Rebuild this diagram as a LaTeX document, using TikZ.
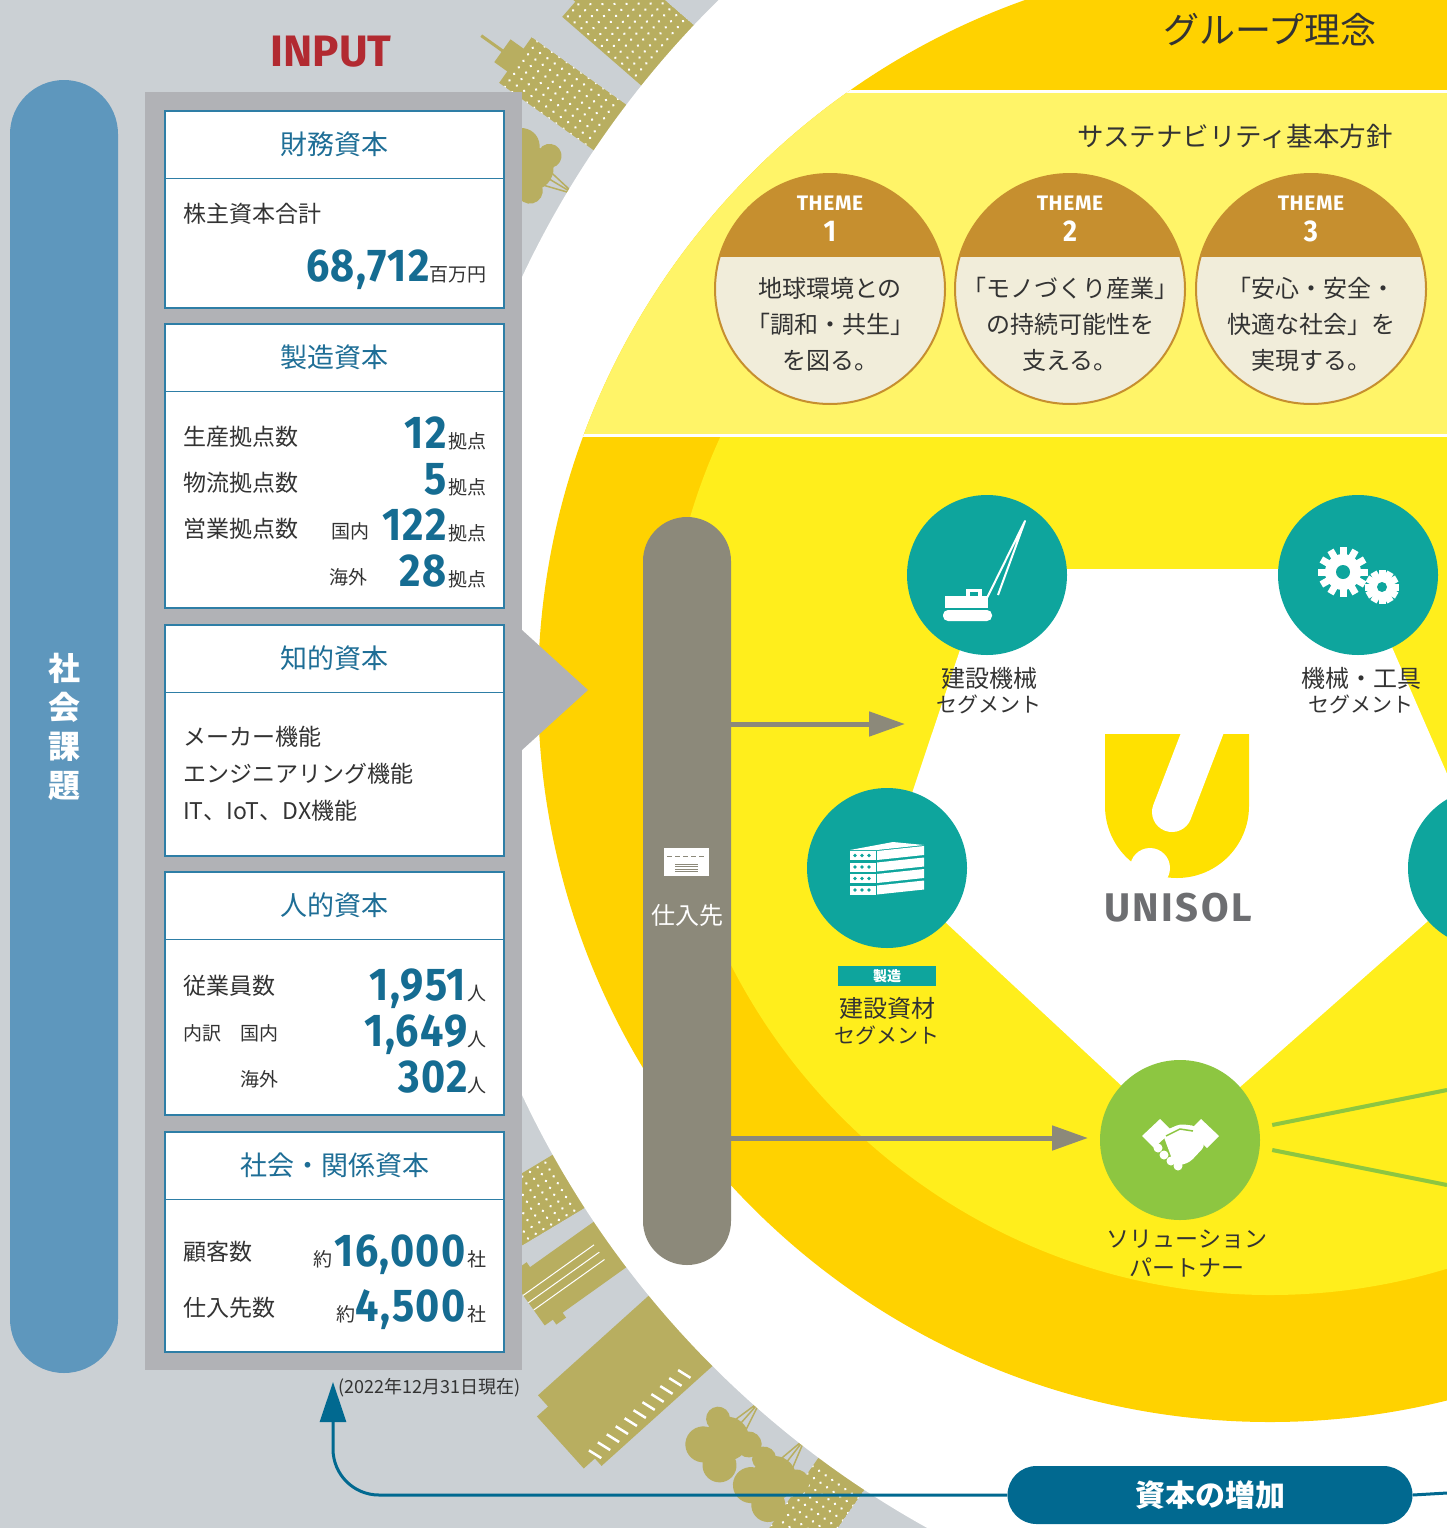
\documentclass[tikz,border=0pt]{standalone}
\usepackage{fontspec}
\setmainfont{Noto Sans CJK JP}
\newfontfamily\din[FakeStretch=0.9,LetterSpace=3]{Fira Sans}
\newfontfamily\dinw{Fira Sans}
\usetikzlibrary{positioning,arrows.meta}

\definecolor{bggray}{HTML}{CBD0D4}
\definecolor{cityolive}{HTML}{B8AE60}
\definecolor{panelgray}{HTML}{B1B2B6}
\definecolor{societyblue}{HTML}{5E97BD}
\definecolor{boxblue}{HTML}{2E7EA6}
\definecolor{titleblue}{HTML}{1E6E96}
\definecolor{numblue}{HTML}{156C92}
\definecolor{ink}{HTML}{333333}
\definecolor{inputred}{HTML}{B22A31}
\definecolor{ringyellow}{HTML}{FFD200}
\definecolor{sunyellow}{HTML}{FFEE1C}
\definecolor{bandyellow}{HTML}{FFF468}
\definecolor{themebrown}{HTML}{C68F2F}
\definecolor{themecream}{HTML}{F1EDDA}
\definecolor{segteal}{HTML}{0EA59D}
\definecolor{partnergreen}{HTML}{8DC641}
\definecolor{pillgray}{HTML}{8C897A}
\definecolor{logoyellow}{HTML}{FFE100}
\definecolor{logogray}{HTML}{6D6E71}
\definecolor{flowblue}{HTML}{016990}

\newcommand{\fsz}[1]{\fontsize{#1}{#1}\selectfont}
\newcommand{\nm}[1]{{\din\bfseries\fsz{46}\textcolor{numblue}{#1}}}
\newcommand{\un}[1]{{\fsz{19}\textcolor{ink}{#1}}}

\tikzstyle{capbox}=[draw=boxblue,line width=1.5pt,fill=white,minimum width=339pt,inner sep=0pt]
\tikzstyle{capline}=[draw=boxblue,line width=1.2pt]
\tikzstyle{captitle}=[text=titleblue,font=\fsz{27},inner sep=0pt]
\tikzstyle{item}=[anchor=base west,text=ink,font=\fsz{23},inner sep=0pt]
\tikzstyle{val}=[anchor=base east,inner sep=0pt]
\tikzstyle{seg}=[circle,fill=segteal,minimum size=160pt,inner sep=0pt]
\tikzstyle{segname}=[text=ink,font=\fsz{24},inner sep=0pt]
\tikzstyle{segsub}=[text=ink,font=\fsz{21},inner sep=0pt]
\tikzstyle{feed}=[draw=pillgray,line width=5pt,-{Triangle[length=36pt,width=24pt]}]
\tikzstyle{flow}=[draw=flowblue,line width=3pt,rounded corners=46pt,-{Triangle[length=40pt,width=26pt]}]
\tikzstyle{themecirc}=[circle,minimum size=230pt,inner sep=0pt,draw=themebrown,line width=2pt,fill=themecream,
  path picture={\fill[themebrown] (path picture bounding box.north west) rectangle ([yshift=32pt]path picture bounding box.east);}]
\tikzstyle{themetag}=[text=white,font=\dinw\bfseries\fsz{21}\addfontfeature{LetterSpace=3},inner sep=0pt]
\tikzstyle{themebody}=[text=ink,font=\fontsize{24}{36}\selectfont,align=center,inner sep=0pt]
\tikzstyle{bldg}=[fill=cityolive]

\begin{document}
\begin{tikzpicture}[x=1pt,y=-1pt]
\useasboundingbox (0,0) rectangle (1447,1528);
\fill[bggray] (0,0) rectangle (1447,1528);

% city skyline standing on the rim of the big white circle
\coordinate (hub) at (1393,686);
% dotted towers
\foreach \ang/\len/\wid in {215.5/1078/56, 221/1066/80, 149/1045/62, 125/1072/56}{
  \begin{scope}[shift={(hub)},rotate=-\ang]
    \fill[bldg] (\len-6,-\wid/4) rectangle (\len+16,\wid/4);
    \clip (900,-\wid/2) rectangle (\len,\wid/2);
    \fill[bldg] (900,-\wid/2) rectangle (\len,\wid/2);
    \foreach \u in {972,981,...,1100}
      \foreach \v in {-36,-28,...,36}
        \fill[white] (\u,\v) circle (1.4);
  \end{scope}
}
% antenna
\begin{scope}[shift={(hub)},rotate=-215.5]
  \draw[cityolive,line width=3pt] (1090,0) -- (1120,0);
\end{scope}
% striped block
\begin{scope}[shift={(hub)},rotate=-144.5]
  \fill[bldg] (900,-28) rectangle (1062,28);
  \fill[bldg] (1040,-34) rectangle (1052,34);
  \foreach \v in {-9,0,9}
    \draw[white,line width=1pt] (975,\v) -- (1062,\v);
\end{scope}
% wide block with slit windows
\begin{scope}[shift={(hub)},rotate=-138]
  \fill[bldg] (900,-50) rectangle (1110,45);
  \fill[bldg] (1080,-40) rectangle (1125,30);
  \foreach \u in {985,997,...,1105}
    \draw[white,line width=2.5pt] (\u,-44) -- (\u+4,-30);
\end{scope}
% trees
\foreach \ang in {211,131.5,128}{
  \begin{scope}[shift={(hub)},rotate=-\ang]
    \draw[cityolive,line width=1.5pt] (955,0) -- (1000,-12) (955,0) -- (1002,10) (955,0) -- (1010,0);
    \fill[bldg] (1005,0) circle (22) (1025,14) circle (18) (1030,-12) circle (17) (995,-20) circle (13) (996,20) circle (12);
  \end{scope}
}

% white core and the yellow disc
\fill[white] (hub) circle (962);
\coordinate (core) at (1270,690);
\fill[ringyellow] (core) circle (732);
\begin{scope}
  \clip (0,435) rectangle (1447,1528);
  \fill[sunyellow] (core) circle (605);
\end{scope}
\begin{scope}
  \clip (core) circle (732);
  \fill[bandyellow] (0,92) rectangle (1447,434);
  \draw[white,line width=3pt] (0,91) -- (1447,91) (0,435) -- (1447,435);
\end{scope}
\fill[white] (987,569) -- (1358,569) -- (1488,868) -- (1180,1140) -- (887,868) -- cycle;

% group philosophy and sustainability themes
\node[text=ink,font=\fsz{36}] (philosophy) at (1270,30) {グループ理念};
\node[text=ink,font=\fsz{26.5}] (policy) at (1235,136) {サステナビリティ基本方針};
\foreach \i/\x in {1/830, 2/1070, 3/1311}{
  \node[themecirc] (theme\i) at (\x,289) {};
  \node[themetag] (theme\i-tag) at (\x,203) {THEME};
  \node[themetag,font=\din\bfseries\fsz{30}] (theme\i-no) at (\x,231) {\i};
}
\node[themebody] (theme1-body) at (830,324) {地球環境との\\「調和・共生」\\を図る。};
\node[themebody] (theme2-body) at (1070,324) {「モノづくり産業」\\の持続可能性を\\支える。};
\node[themebody] (theme3-body) at (1311,324) {「安心・安全・\\快適な社会」を\\実現する。};

% business segments
\node[seg] (mach) at (987,575) {};
\node[seg] (tool) at (1358,575) {};
\node[seg] (pipe) at (887,868) {};
\node[seg] (east) at (1488,868) {};
\node[seg,fill=partnergreen] (sol) at (1180,1140) {};

\node[segname] (mach-name) at (989,678) {建設機械};
\node[segsub] (mach-sub) at (989,704) {セグメント};
\node[segname] (tool-name) at (1361,678) {機械・工具};
\node[segsub] (tool-sub) at (1361,704) {セグメント};
\node[fill=segteal,minimum width=98pt,minimum height=20pt,inner sep=0pt,text=white,font=\bfseries\fsz{14}] (pipe-tag) at (887,976) {製造};
\node[segname] (pipe-name) at (887,1008) {建設資材};
\node[segsub] (pipe-sub) at (887,1035) {セグメント};
\node[segname,font=\fsz{23}] (sol-name) at (1187,1239) {ソリューション};
\node[segname,font=\fsz{23}] (sol-sub) at (1187,1268) {パートナー};

% crane
\fill[white,rounded corners=5pt] (943,610) rectangle (992,621);
\fill[white] (945,596) rectangle (988,608);
\fill[white] (966,589) rectangle (982,598);
\fill[segteal] (970,592) rectangle (978,596);
\draw[white,line width=2pt,line join=round] (984,604) -- (1025,521) -- (998,595);
% stacked panels
\foreach \k in {0,1,2,3}{
  \fill[white] (850,851+11.5*\k) rectangle (876,860+11.5*\k);
  \fill[white] (877,851+11.5*\k) -- (924,846+11.5*\k) -- (924,855+11.5*\k) -- (877,860+11.5*\k) -- cycle;
  \foreach \d in {855,862,869}
    \fill[segteal] (\d,855.5+11.5*\k) circle (1.8);
}
\fill[white] (850,850) -- (893,842) -- (924,845) -- (877,850) -- cycle;
% gears
\foreach \cx/\cy/\rb/\rt/\rh in {1343/572/18/25/7, 1382/587/12/17/5}{
  \begin{scope}[shift={(\cx,\cy)}]
    \fill[white] (0,0) circle (\rb);
    \foreach \a in {0,30,...,330}
      \fill[white,rotate=\a] (-3.5,\rb-2) rectangle (3.5,\rt);
    \fill[segteal] (0,0) circle (\rh);
  \end{scope}
}
% handshake
\fill[white] (1142,1136) -- (1160,1119) -- (1172,1131) -- (1154,1148) -- cycle;
\fill[white] (1219,1136) -- (1201,1119) -- (1189,1131) -- (1207,1148) -- cycle;
\fill[white,rounded corners=4pt] (1162,1132) -- (1180,1124) -- (1196,1126) -- (1205,1146) -- (1190,1162) -- (1175,1167) -- cycle;
\foreach \fx/\fy in {1158/1148, 1164/1155, 1171/1161, 1178/1166}
  \fill[white] (\fx,\fy) circle (4.5);
\draw[partnergreen,line width=1.5pt] (1166,1136) -- (1180,1129) -- (1193,1131);

% links out of the partner circle
\coordinate (rim-up) at (1447,1090);
\coordinate (rim-dn) at (1447,1185);
\draw[partnergreen,line width=4pt] ([shift={(12pt,15pt)}]sol.east) -- (rim-up);
\draw[partnergreen,line width=4pt] ([shift={(12pt,-10pt)}]sol.east) -- (rim-dn);

% logo
\fill[logoyellow] (1105,734) -- (1249,734) -- (1249,806) arc (0:180:72) -- cycle;
\draw[white,line width=40pt,line cap=round] (1215,700) -- (1172,812);
\fill[white] (1150,868) circle (20);
\node[text=logogray,font=\dinw\bfseries\fontsize{40}{40}\selectfont\addfontfeature{LetterSpace=6}] (logo) at (1178,908) {UNISOL};

% suppliers
\node[fill=pillgray,minimum width=88pt,minimum height=748pt,rounded corners=44pt,inner sep=0pt] (supplier) at (687,891) {};
\fill[white] (664,848) rectangle (709,876);
\draw[pillgray,line width=1pt,dash pattern=on 5pt off 3pt] (667,856) -- (706,856);
\foreach \k in {864,866.5,...,873}
  \draw[pillgray,line width=1pt] (675,\k) -- (698,\k);
\node[text=white,font=\fsz{24}] (supplier-name) at (687,915) {仕入先};
\coordinate (feed1) at (905,724);
\coordinate (feed2) at (1088,1138);
\draw[feed] (supplier.east |- feed1) -- (feed1);
\draw[feed] (supplier.east |- feed2) -- (feed2);

% social issues
\node[fill=societyblue,minimum width=108pt,minimum height=1293pt,rounded corners=54pt,inner sep=0pt,
      text=white,font=\bfseries\fontsize{32}{39}\selectfont,align=center] (society) at (64,726.5) {社\\会\\課\\題};

% input capitals
\node[text=inputred,font=\dinw\bfseries\fsz{44}] (input) at (331,52) {INPUT};
\fill[panelgray] (145,92) rectangle (522,1370);
\fill[panelgray] (522,630) -- (588,690) -- (522,750) -- cycle;
\foreach \bx/\ya/\yb/\ttl in {fin/111/308/財務資本, mfg/324/608/製造資本, ip/625/856/知的資本, hum/872/1115/人的資本, soc/1132/1352/社会・関係資本}{
  \node[capbox,minimum height={(\yb-\ya)*1pt}] (\bx) at (334.5,{(\ya+\yb)/2}) {};
  \draw[capline] ([yshift=-68pt]\bx.north west) -- ([yshift=-68pt]\bx.north east);
  \node[captitle] (\bx-title) at ([yshift=-34pt]\bx.north) {\ttl};
}
\node[item] (fin-a) at (183,222) {株主資本合計};
\node[val] (fin-v) at (487,281) {\nm{68,712}\un{百万円}};

\node[item] (mfg-a) at (183,445) {生産拠点数};
\node[val] (mfg-av) at (487,448) {\nm{12}\hspace{2pt}\un{拠点}};
\node[item] (mfg-b) at (183,491) {物流拠点数};
\node[val] (mfg-bv) at (487,494) {\nm{5}\hspace{2pt}\un{拠点}};
\node[item] (mfg-c) at (183,537) {営業拠点数};
\node[item,font=\fsz{19}] (mfg-c1) at (331,538) {国内};
\node[val] (mfg-cv) at (487,540) {\nm{122}\hspace{2pt}\un{拠点}};
\node[item,font=\fsz{19}] (mfg-c2) at (329,584) {海外};
\node[val] (mfg-dv) at (487,586) {\nm{28}\hspace{2pt}\un{拠点}};

\node[item] (ip-a) at (183,745) {メーカー機能};
\node[item] (ip-b) at (183,782) {エンジニアリング機能};
\node[item] (ip-c) at (183,819) {IT、IoT、DX機能};

\node[item] (hum-a) at (183,994) {従業員数};
\node[val] (hum-av) at (487,1000) {\nm{1,951}\hspace{2pt}\un{人}};
\node[item,font=\fsz{19}] (hum-b) at (183,1040) {内訳};
\node[item,font=\fsz{19}] (hum-b1) at (240,1040) {国内};
\node[val] (hum-bv) at (487,1046) {\nm{1,649}\un{人}};
\node[item,font=\fsz{19}] (hum-b2) at (240,1086) {海外};
\node[val] (hum-cv) at (487,1092) {\nm{302}\un{人}};

\node[item] (soc-a) at (183,1260) {顧客数};
\node[val] (soc-av) at (487,1266) {\un{約}\hspace{2pt}\nm{16,000}\hspace{2pt}\un{社}};
\node[item] (soc-b) at (183,1316) {仕入先数};
\node[val] (soc-bv) at (487,1321) {\un{約}\nm{4,500}\hspace{2pt}\un{社}};

\node[anchor=west,inner sep=0pt,text=ink,font=\fsz{18}] (asof) at (338,1388) {(2022年12月31日現在)};

% growth of capital fed back to the input
\node[fill=flowblue,minimum width=405pt,minimum height=58pt,rounded corners=29pt,inner sep=0pt,
      text=white,font=\bfseries\fsz{30}] (gain) at (1210,1495) {資本の増加};
\coordinate (tip) at (333,1382);
\coordinate (rim) at (1447,1493);
\draw[flow] (gain.west) -| (tip);
\draw[flowblue,line width=3pt] (gain.east) -- (rim);
\end{tikzpicture}
\end{document}
